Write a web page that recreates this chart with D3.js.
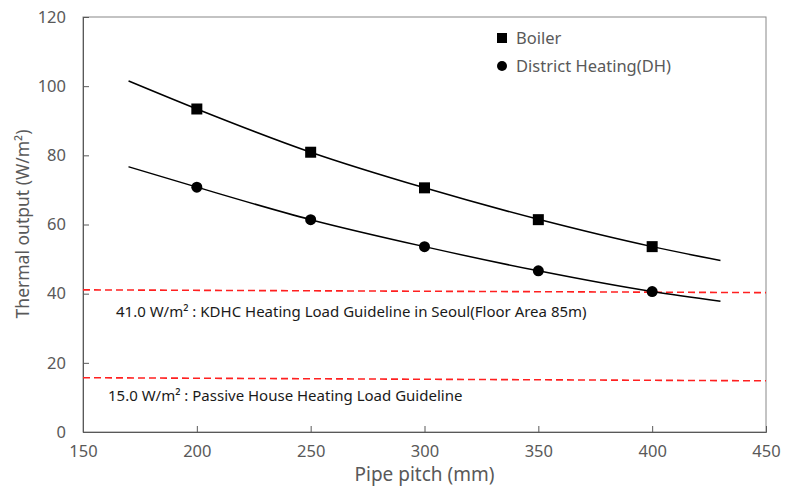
<!DOCTYPE html>
<html>
<head>
<meta charset="utf-8">
<script src="https://cdn.jsdelivr.net/npm/d3@7"></script>
<style>
  body { margin: 0; background: #fff; }
  text { font-family: "Noto Sans", sans-serif; }
</style>
</head>
<body>
<div id="chart"></div>
<script>
// measured points
var pitch = [200, 250, 300, 350, 400];
var boiler = [93.4, 80.9, 70.6, 61.4, 53.6];
var dh = [70.8, 61.4, 53.6, 46.6, 40.6];

// trend curves
var curvePitch = [170, 200, 250, 300, 350, 400, 430];
var boilerCurve = [101.5, 93.4, 80.9, 70.6, 61.5, 53.6, 49.6];
var dhCurve = [76.7, 70.8, 61.4, 53.6, 46.6, 40.6, 37.8];

// guideline lines (slightly tilted in the source)
var guidePitch = [150, 450];
var guideKdhc = [41.1, 40.3];
var guidePassive = [15.7, 14.8];

var xTicks = [150, 200, 250, 300, 350, 400, 450];
var yTicks = [0, 20, 40, 60, 80, 100, 120];

var margin = { left: 83, right: 23, top: 17, bottom: 56 };
var W = 789, H = 488;
var width = W - margin.left - margin.right;
var height = H - margin.top - margin.bottom;
var axisGrey = "#595959";

var svg = d3.select("#chart").append("svg")
    .attr("width", W)
    .attr("height", H);

var g = svg.append("g")
    .attr("transform", "translate(" + margin.left + "," + margin.top + ")");

var x = d3.scaleLinear().domain([150, 450]).range([0, width]);
var y = d3.scaleLinear().domain([0, 120]).range([height, 0]);

// plot frame
g.append("rect")
    .attr("width", width)
    .attr("height", height)
    .attr("fill", "none")
    .attr("stroke", "#888")
    .attr("stroke-width", 1);

// axes with inner ticks
var xAxis = g.append("g")
    .attr("transform", "translate(0," + height + ")")
    .call(d3.axisBottom(x).tickValues(xTicks).tickSize(-6).tickPadding(13));
var yAxis = g.append("g")
    .call(d3.axisLeft(y).tickValues(yTicks).tickSize(-6).tickPadding(17));

[xAxis, yAxis].forEach(function(a){
    a.select(".domain").attr("stroke", axisGrey);
    a.selectAll(".tick line").attr("stroke", axisGrey);
    a.selectAll(".tick text")
        .attr("fill", axisGrey)
        .attr("font-size", "16.5px")
        .style("font-family", "'Noto Sans', sans-serif");
});

// guideline dashed lines
var guideLine = d3.line()
    .x(function(d){ return x(d[0]); })
    .y(function(d){ return y(d[1]); });

[guideKdhc, guidePassive].forEach(function(vals){
    g.append("path")
        .attr("d", guideLine(guidePitch.map(function(p, i){ return [p, vals[i]]; })))
        .attr("fill", "none")
        .attr("stroke", "#ff2020")
        .attr("stroke-width", 1.6)
        .attr("stroke-dasharray", "7,4");
});

// trend curves
var curve = d3.line()
    .x(function(d){ return x(d[0]); })
    .y(function(d){ return y(d[1]); })
    .curve(d3.curveMonotoneX);

[boilerCurve, dhCurve].forEach(function(vals){
    g.append("path")
        .attr("d", curve(curvePitch.map(function(p, i){ return [p, vals[i]]; })))
        .attr("fill", "none")
        .attr("stroke", "#000")
        .attr("stroke-width", 1.5);
});

// markers
g.selectAll(".sq")
    .data(pitch.map(function(p, i){ return [p, boiler[i]]; }))
    .enter().append("rect")
    .attr("x", function(d){ return x(d[0]) - 5.5; })
    .attr("y", function(d){ return y(d[1]) - 5.5; })
    .attr("width", 11)
    .attr("height", 11)
    .attr("fill", "#000");

g.selectAll(".dot")
    .data(pitch.map(function(p, i){ return [p, dh[i]]; }))
    .enter().append("circle")
    .attr("cx", function(d){ return x(d[0]); })
    .attr("cy", function(d){ return y(d[1]); })
    .attr("r", 5.5)
    .attr("fill", "#000");

// guideline labels
g.append("text")
    .attr("x", 116 - margin.left)
    .attr("y", 317 - margin.top)
    .attr("font-size", "15px")
    .attr("fill", "#1a1a1a")
    .text("41.0 W/m² : KDHC Heating Load Guideline in Seoul(Floor Area 85m)");

g.append("text")
    .attr("x", 108 - margin.left)
    .attr("y", 401 - margin.top)
    .attr("font-size", "15px")
    .attr("fill", "#1a1a1a")
    .text("15.0 W/m² : Passive House Heating Load Guideline");

// legend
var legend = svg.append("g");
legend.append("rect")
    .attr("x", 497).attr("y", 33)
    .attr("width", 10).attr("height", 10)
    .attr("fill", "#000");
legend.append("text")
    .attr("x", 516).attr("y", 44)
    .attr("font-size", "16.5px")
    .attr("fill", axisGrey)
    .text("Boiler");
legend.append("circle")
    .attr("cx", 502).attr("cy", 66)
    .attr("r", 5)
    .attr("fill", "#000");
legend.append("text")
    .attr("x", 516).attr("y", 72)
    .attr("font-size", "16.5px")
    .attr("fill", axisGrey)
    .text("District Heating(DH)");

// axis titles
svg.append("text")
    .attr("x", margin.left + width / 2)
    .attr("y", 481)
    .attr("text-anchor", "middle")
    .attr("font-size", "19px")
    .attr("fill", axisGrey)
    .text("Pipe pitch (mm)");

svg.append("text")
    .attr("transform", "rotate(-90)")
    .attr("x", -224)
    .attr("y", 29)
    .attr("text-anchor", "middle")
    .attr("font-size", "17.5px")
    .attr("fill", axisGrey)
    .text("Thermal output (W/m²)");
</script>
</body>
</html>
